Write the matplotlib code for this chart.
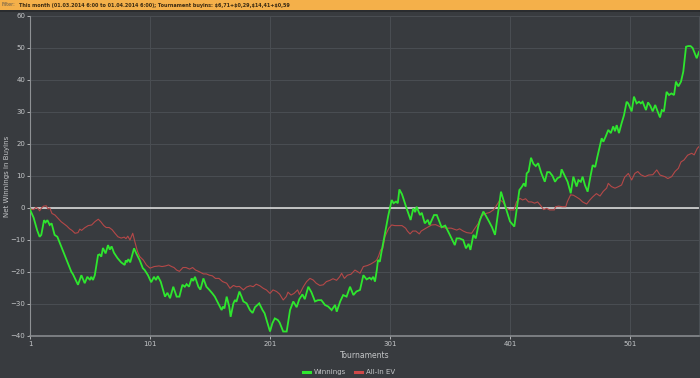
import matplotlib
matplotlib.use("Agg")
import matplotlib.pyplot as plt
from matplotlib.patches import Rectangle
from matplotlib.lines import Line2D
from matplotlib import font_manager

# ---------------- data ----------------
win_t = [1, 4, 7, 9, 10.4, 12.7, 14, 15.5, 17.4, 19, 21.5, 23.8, 35.4, 36.8, 41, 43.8, 46.6, 48.8, 51, 52,
         53.5, 55, 57.7, 59, 60.4, 61.8, 64, 66, 67.5, 69, 71, 74, 77, 79.9, 80.8, 81.8, 83, 84.5, 87.7, 89.6,
         92.4, 95, 96.6, 99.3, 102, 104.3, 106, 107.5, 109.9, 113.5, 115.5, 117.7, 120.4, 123.2, 125.5, 128,
         130, 131.5, 133.5, 135.7, 137, 138.5, 141.3, 143, 145.5, 148, 150.5, 153, 155, 157.8, 160.7, 161.8,
         163, 164.9, 167, 168.2, 170.5, 171.8, 173, 175.5, 177.3, 178.8, 181.5, 184.3, 186.5, 188.5, 192,
         194.8, 196.5, 201, 203, 205, 207.5, 209, 212, 214.9, 217.7, 220.4, 223.2, 225.4, 228, 230, 232.9,
         235.5, 238.5, 241, 243.8, 246.8, 249.5, 252.4, 255.2, 256.6, 259.5, 262, 264.8, 267.7, 270.5, 273,
         276, 278.8, 281.5, 284, 285.5, 287, 288.5, 290, 291, 292.5, 294, 296.8, 299.5, 302.4, 304, 306,
         307.5, 308.8, 311, 315, 318.2, 320.4, 322, 323.2, 326, 327.5, 330, 332.5, 334, 337.7, 340, 344, 347,
         351, 355, 356.5, 359, 362, 364.3, 366.5, 368, 370.5, 372.5, 374.5, 376, 378.8, 381, 383.5, 386,
         388.5, 391, 393.5, 398, 401, 404.6, 406.5, 408.8, 411, 412.5, 414, 414.9, 416.5, 418.5, 420.5,
         422.5, 424.5, 427, 430, 432, 434, 436.5, 438.5, 440.5, 443, 444, 447, 449, 451.6, 453.8, 456.5, 458,
         460, 461.5, 463.5, 465.7, 468, 469.9, 472, 473.8, 476, 477.4, 478.8, 480.7, 482.9, 485, 487, 488.5,
         489.9, 491.8, 494, 496, 498.2, 499.5, 502.4, 504.3, 506.5, 508.5, 510, 511.5, 514.3, 516, 518,
         519.9, 522, 524, 526, 527.5, 529.3, 531.5, 533.5, 535.5, 537.7, 539.3, 541.3, 543.5, 545.4, 547.7,
         549.5, 551.5, 553.2, 556.6, 558.5]
win_v = [-0.5, -3, -7, -9, -8.4, -3.8, -4.5, -3.8, -5.3, -4.8, -8.4, -9, -19.9, -20.7, -24, -21, -23.5, -21.5,
         -22.5, -21.5, -22.5, -21, -14.7, -14.5, -15.2, -12.5, -14.2, -11.6, -13, -12, -14, -15.7, -17, -17.8,
         -16.4, -16.8, -16, -17, -12.6, -14.2, -16.3, -18.8, -19.4, -21, -23.2, -21.5, -22.5, -21.3, -23,
         -27.7, -26.5, -28.2, -24.6, -27.7, -27.7, -24, -24.6, -23.8, -24.6, -22, -22.8, -21.5, -24.6, -25.5,
         -22, -24.6, -25.6, -26.7, -27.7, -29.8, -31.9, -30.8, -31.4, -27.7, -30.8, -34, -29.8, -28.75, -29.3,
         -26.1, -27.7, -29.2, -29.8, -31.9, -32.8, -31, -29.8, -31.9, -32.9, -38.6, -36, -34.5, -35, -35.8,
         -38.6, -38.6, -31.9, -29.2, -31, -28.5, -27, -28.5, -24.6, -26.3, -29.2, -28.8, -28.8, -30.3, -30.8,
         -31.9, -30.3, -32.4, -29.2, -27.2, -27.7, -24.6, -27.2, -26.1, -25.6, -21, -22.3, -21.8, -22.3,
         -21.5, -23, -19.4, -16.25, -16.8, -13.6, -7.9, -2.5, 2.5, 1.5, 2, 1.5, 5.8, 4.3, -0.3, -3.75, -0.1,
         -1.3, 0.4, -2.2, -1.5, -4.8, -3.7, -5.3, -2.2, -2.2, -6, -5.5, -8.5, -11.6, -9.5, -9.5, -10, -12.6,
         -11.2, -13.1, -8.4, -9.5, -5.8, -3.75, -1.1, -2.5, -4.2, -6, -8.4, -1.7, 5.1, -0.6, -4.2, -5.8, -0.6,
         5.6, 6.7, 7.7, 6.7, 10.8, 11.4, 15.7, 13.8, 13.1, 14, 11, 8.2, 11.2, 11.2, 10, 8.2, 9.3, 9.8, 12.1,
         9.8, 8.2, 4.6, 9.8, 6.7, 8.7, 8.2, 9.8, 7.1, 5.1, 9.8, 13.4, 12.8, 16, 19.6, 21.8, 20.7, 22.3, 24.4,
         23.4, 25.5, 24, 25.9, 23.4, 26.5, 29, 33.2, 32.7, 30.2, 34.8, 32.7, 33.2, 32.7, 33.2, 30.6, 33, 31.9,
         30.2, 32.2, 30.2, 28.3, 30.6, 30.2, 36.3, 35.3, 35.8, 35.3, 39.5, 38, 39.5, 42.6, 50.4, 50.6, 50.6,
         50, 46.8, 48.8]

ev_t = [1, 4, 6, 8, 9, 11, 12.5, 14.6, 16, 17.5, 19.3, 21.8, 24, 27, 29.5, 31.6, 34, 36, 38.5, 41, 42.5, 44,
        46.5, 49.5, 52.4, 55, 57.9, 60, 62.5, 64.5, 67, 69.5, 71.8, 74.3, 77, 79.5, 81, 82.5, 84.3, 86.6,
        88.5, 90.5, 92.5, 95.4, 98, 101, 104.5, 108.5, 111, 114, 116.5, 119, 121, 123.2, 125.5, 128.5, 131,
        134, 136.5, 139, 141.5, 145.5, 148, 150.5, 153, 155.5, 158.5, 161.5, 164.9, 167.7, 170.5, 173,
        175.5, 178.8, 181.5, 184.5, 187, 189.5, 192.5, 195.4, 198, 201, 203.5, 206.5, 209, 212, 214.5, 216,
        218.5, 221, 224, 225.5, 228.8, 231.5, 234.3, 237, 239.5, 242.5, 245.4, 248, 251, 253.5, 256.5, 259,
        260.7, 263, 265.5, 268.5, 271.8, 274, 276, 278.8, 282, 285, 288.5, 289.9, 291.5, 293.2, 295, 296.8,
        298, 300, 302.4, 305, 308, 311, 314, 315.5, 317.7, 320, 322.5, 325.4, 327, 331, 335.7, 339, 343,
        348, 352, 356.6, 359, 362, 365, 369, 372, 374.6, 377, 381, 384, 387.5, 392.7, 395, 398.2, 401,
        404.3, 406.5, 409.3, 411.5, 414, 416.5, 419, 421.5, 424, 426.5, 429, 431.6, 434, 438, 439, 441.5,
        444.5, 447.5, 448.8, 451.5, 453.8, 456.5, 459, 461.5, 464.9, 467.5, 470, 473, 476, 478.7, 481.5,
        482.9, 485.5, 488.5, 491.5, 494, 496.5, 499.6, 502.4, 505, 507.5, 510, 513.5, 516.5, 520, 523.3,
        526, 530, 532.5, 535.7, 538.5, 541.3, 543.5, 546, 549, 552.4, 554.5, 557, 558.5]
ev_v = [-0.3, -0.5, 0.2, -0.3, -0.9, 0.2, 0.6, 0.7, -0.3, 0, -1.7, -2.2, -3.1, -4.3, -5, -5.6, -6.5, -7, -7.9,
        -7.7, -6.6, -7, -6.2, -5.5, -5.3, -4.3, -3.5, -4.3, -5.5, -6.1, -6.1, -6.8, -7.9, -9, -9.4, -9.1,
        -9.6, -8.8, -10, -7.9, -10.7, -13.5, -15.2, -16.25, -17.8, -18.8, -18.3, -18.1, -18.3, -18.1, -17.8,
        -18.3, -18.6, -19.4, -19.8, -18.6, -18.6, -19.1, -18.6, -19.4, -19.8, -20.6, -20.6, -21, -21.2, -22,
        -22, -23, -23.5, -25.1, -24.2, -24.6, -24.5, -25.6, -24.7, -24.3, -24.6, -23.8, -24.3, -25.1, -25.6,
        -26.7, -25.6, -26.1, -26.9, -28.75, -27.7, -26.3, -27.2, -26.7, -25.6, -27, -24.6, -23, -22, -22.5,
        -23.5, -24.2, -24, -23, -22.6, -22.1, -22.6, -21.5, -20.4, -22, -21, -20.7, -19.4, -19.9, -20.4,
        -18.3, -18, -17.5, -16.7, -16.25, -15, -13.1, -12.6, -9, -7.9, -6.3, -5.3, -5.5, -5.5, -5.5, -6.3,
        -7.2, -8.1, -7.2, -7.2, -8.1, -7.2, -6.3, -5.3, -5.2, -5.9, -6.3, -6.3, -6.9, -6.5, -7.2, -7.7,
        -7.9, -6.2, -4.8, -2.5, -1.7, -1.4, -0.5, 2.5, 1.9, -0.1, -0.6, -0.6, 2, 3, 2.5, 2.9, 1.9, 1.9, 1.5,
        1.9, 0.8, -0.5, -0.1, -0.6, -0.6, 0.4, 0.6, 0.4, 0.4, 2, 4.1, 4, 3.4, 2.8, 1.9, 1.25, 2.5, 3.5, 4.5,
        3.75, 5.2, 6.2, 7.7, 6.7, 6.2, 6.7, 7.2, 9.6, 10.8, 8.75, 10.8, 11.4, 10.4, 9.8, 10.3, 10.4, 11.9,
        10.3, 9.8, 9.2, 9.8, 11.4, 12.4, 14.4, 15, 16.5, 17.1, 16.6, 18.6, 19.2]

x_ticks = [1, 101, 201, 301, 401, 501]
y_ticks = [-40, -30, -20, -10, 0, 10, 20, 30, 40, 50, 60]
series_names = ["Winnings", "All-In EV"]
filter_label = "Filter:"
filter_text = "This month (01.03.2014 6:00 to 01.04.2014 6:00); Tournament buyins: $6,71+$0,29,$14,41+$0,59"

# ---------------- styling ----------------
BG = "#383b3f"
GRID = "#4a4e53"
TXT = "#c4c6c8"
GREEN = "#2ee62e"
RED = "#b54848"

installed = {f.name for f in font_manager.fontManager.ttflist}
if "Liberation Sans Narrow" in installed:
    BANNER_FONT, BANNER_SIZE = "Liberation Sans Narrow", 5.4
else:
    BANNER_FONT, BANNER_SIZE = "DejaVu Sans", 3.55

W, H = 700, 378
fig = plt.figure(figsize=(W / 100, H / 100), dpi=100, facecolor=BG)

# banner
fig.patches.append(Rectangle((0, 1 - 10 / H), 1, 10 / H, transform=fig.transFigure,
                             facecolor="#f4b04a", edgecolor="none", zorder=0))
fig.patches.append(Rectangle((0, 1 - 11.5 / H), 1, 1.5 / H, transform=fig.transFigure,
                             facecolor="#2a2c2f", edgecolor="none", zorder=0))
t1 = fig.text(2 / W, 1 - 5 / H, filter_label, fontsize=BANNER_SIZE, family=BANNER_FONT,
              color="#5e564a", va="center", ha="left")
renderer = fig.canvas.get_renderer()
bb = t1.get_window_extent(renderer)
fig.text(bb.x1 / W + 3 / W, 1 - 5 / H, filter_text, fontsize=BANNER_SIZE, family=BANNER_FONT,
         fontweight="bold", color="#3a2a12", va="center", ha="left", parse_math=False)

ax = fig.add_axes([30 / W, 1 - 336 / H, 669 / W, 320 / H], facecolor=BG)

ax.plot(win_t, win_v, color=GREEN, lw=1.3, zorder=4, solid_joinstyle="miter")
ax.plot(ev_t, ev_v, color=RED, lw=0.8, zorder=3)
ax.axhline(0, color="#e6e6e6", lw=1.1, zorder=2)

ax.set_xlim(1, 558.5)
ax.set_ylim(-40, 60)
ax.set_xticks(x_ticks)
ax.set_yticks(y_ticks)
ax.grid(True, color=GRID, lw=0.7, zorder=0)
ax.set_axisbelow(True)
ax.tick_params(colors=TXT, labelsize=5, length=2, width=0.6, pad=1.5)
ax.spines["top"].set_visible(False)
ax.spines["right"].set_color(GRID)
ax.spines["left"].set_color("#8e9194")
ax.spines["bottom"].set_color("#8e9194")
ax.spines["bottom"].set_linewidth(1.1)
ax.spines["left"].set_linewidth(0.8)

fig.text(365 / W, 1 - 355 / H, "Tournaments", fontsize=5.5, color=TXT, ha="center", va="center")
fig.text(7 / W, 1 - 176 / H, "Net Winnings in Buyins", fontsize=5, color=TXT, ha="center",
         va="center", rotation=90)

handles = [Line2D([], [], color=GREEN, lw=2.2), Line2D([], [], color="#d04848", lw=2.2)]
fig.legend(handles, series_names, loc="center", bbox_to_anchor=(349 / W, 1 - 372 / H), ncol=2,
           frameon=False, fontsize=5, labelcolor=TXT, handlelength=1.0, handletextpad=0.6,
           columnspacing=1.2)

fig.savefig("out.png", dpi=100, facecolor=BG)
